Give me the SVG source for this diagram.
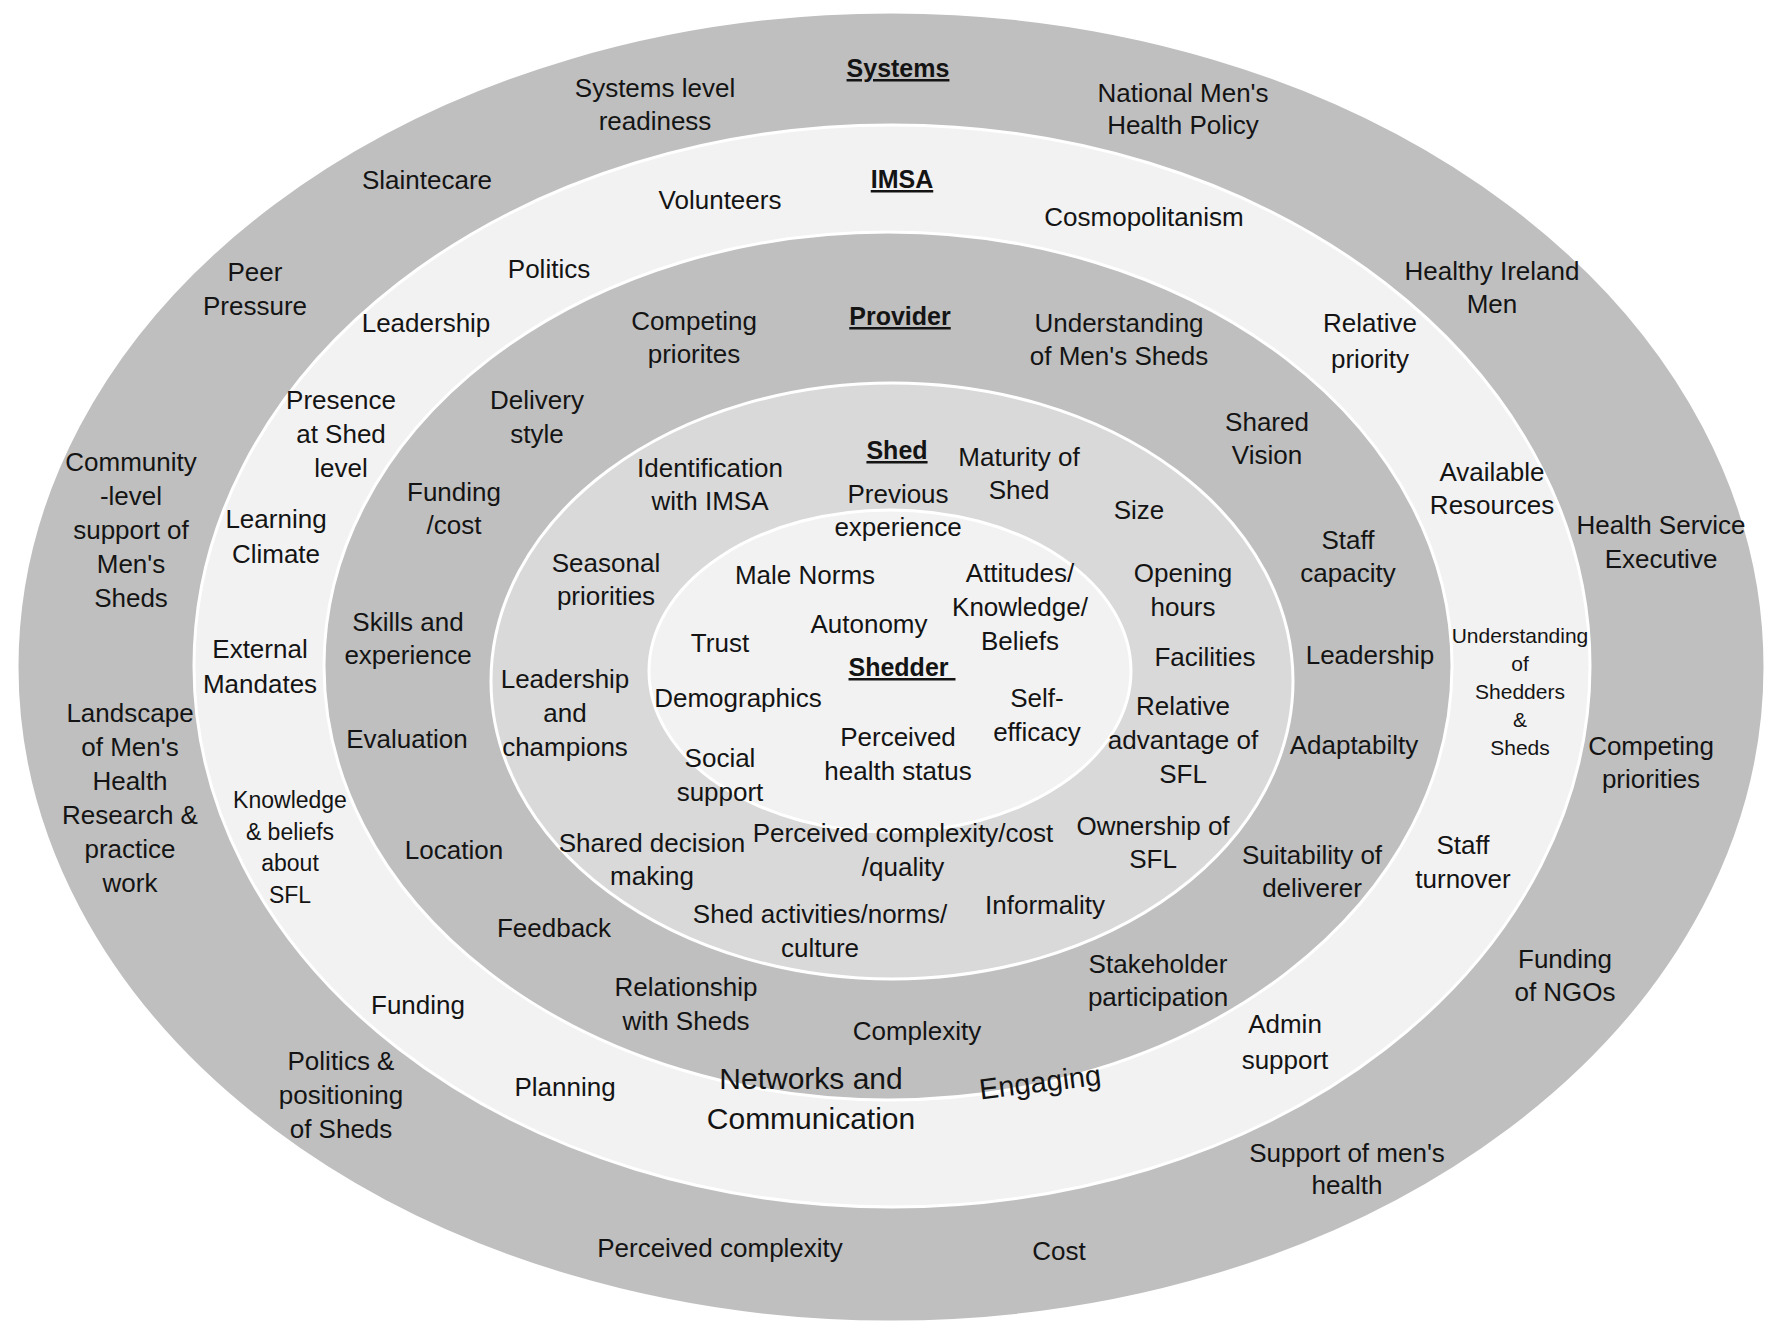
<svg xmlns="http://www.w3.org/2000/svg" width="1772" height="1329" viewBox="0 0 1772 1329">
<style>
.ring{stroke:#ffffff;stroke-width:3}
.t{font-family:"Liberation Sans",Arial,sans-serif;font-size:26px;fill:#141414;text-anchor:middle}
.h{font-family:"Liberation Sans",Arial,sans-serif;font-size:25px;font-weight:bold;fill:#141414;text-anchor:middle;text-decoration:underline}
.s21{font-size:21px}
.s23{font-size:23px}
.s30{font-size:30px}
</style>
<rect width="1772" height="1329" fill="#ffffff"/>
<g id="rings">
<g id="systems"><ellipse class="ring" cx="891" cy="667" rx="874" ry="655" fill="#bfbfbf"/></g>
<g id="imsa"><ellipse class="ring" cx="892" cy="666" rx="698" ry="541" fill="#f2f2f2"/></g>
<g id="provider"><ellipse class="ring" cx="888" cy="666" rx="564" ry="434" fill="#bfbfbf"/></g>
<g id="shed"><ellipse class="ring" cx="892" cy="681" rx="401" ry="298" fill="#d9d9d9"/></g>
<g id="shedder"><ellipse class="ring" cx="890" cy="671" rx="241" ry="161" fill="#f2f2f2"/></g>
</g>
<g id="systems-labels">
<text class="h" x="898" y="77">Systems</text>
<text class="t" x="655" y="97">Systems level<tspan x="655" dy="33">readiness</tspan></text>
<text class="t" x="1183" y="102">National Men's<tspan x="1183" dy="32">Health Policy</tspan></text>
<text class="t" x="427" y="189">Slaintecare</text>
<text class="t" x="255" y="281">Peer<tspan x="255" dy="34">Pressure</tspan></text>
<text class="t" x="1492" y="280">Healthy Ireland<tspan x="1492" dy="33">Men</tspan></text>
<text class="t" x="131" y="471">Community<tspan x="131" dy="34">-level</tspan><tspan x="131" dy="34">support of</tspan><tspan x="131" dy="34">Men's</tspan><tspan x="131" dy="34">Sheds</tspan></text>
<text class="t" x="1661" y="534">Health Service<tspan x="1661" dy="34">Executive</tspan></text>
<text class="t" x="130" y="722">Landscape<tspan x="130" dy="34">of Men's</tspan><tspan x="130" dy="34">Health</tspan><tspan x="130" dy="34">Research &amp;</tspan><tspan x="130" dy="34">practice</tspan><tspan x="130" dy="34">work</tspan></text>
<text class="t" x="1651" y="755">Competing<tspan x="1651" dy="33">priorities</tspan></text>
<text class="t" x="1565" y="968">Funding<tspan x="1565" dy="33">of NGOs</tspan></text>
<text class="t" x="341" y="1070">Politics &amp;<tspan x="341" dy="34">positioning</tspan><tspan x="341" dy="34">of Sheds</tspan></text>
<text class="t" x="1347" y="1162">Support of men's<tspan x="1347" dy="32">health</tspan></text>
<text class="t" x="720" y="1257">Perceived complexity</text>
<text class="t" x="1059" y="1260">Cost</text>
</g>
<g id="imsa-labels">
<text class="h" x="902" y="188">IMSA</text>
<text class="t" x="720" y="209">Volunteers</text>
<text class="t" x="1144" y="226">Cosmopolitanism</text>
<text class="t" x="549" y="278">Politics</text>
<text class="t" x="426" y="332">Leadership</text>
<text class="t" x="1370" y="332">Relative<tspan x="1370" dy="36">priority</tspan></text>
<text class="t" x="341" y="409">Presence<tspan x="341" dy="34">at Shed</tspan><tspan x="341" dy="34">level</tspan></text>
<text class="t" x="1492" y="481">Available<tspan x="1492" dy="33">Resources</tspan></text>
<text class="t" x="276" y="528">Learning<tspan x="276" dy="35">Climate</tspan></text>
<text class="t" x="260" y="658">External<tspan x="260" dy="35">Mandates</tspan></text>
<text class="t s21" x="1520" y="643">Understanding<tspan x="1520" dy="28">of</tspan><tspan x="1520" dy="28">Shedders</tspan><tspan x="1520" dy="28">&amp;</tspan><tspan x="1520" dy="28">Sheds</tspan></text>
<text class="t s23" x="290" y="808">Knowledge<tspan x="290" dy="31.5">&amp; beliefs</tspan><tspan x="290" dy="31.5">about</tspan><tspan x="290" dy="31.5">SFL</tspan></text>
<text class="t" x="1463" y="854">Staff<tspan x="1463" dy="34">turnover</tspan></text>
<text class="t" x="418" y="1014">Funding</text>
<text class="t" x="1285" y="1033">Admin<tspan x="1285" dy="36">support</tspan></text>
<text class="t" x="565" y="1096">Planning</text>
<text class="t s30" x="811" y="1089">Networks and<tspan x="811" dy="40">Communication</tspan></text>
<text class="t" style="font-size:29px" x="1040" y="1092" transform="rotate(-7 1040 1082)">Engaging</text>
</g>
<g id="provider-labels">
<text class="h" x="900" y="325">Provider</text>
<text class="t" x="694" y="330">Competing<tspan x="694" dy="33">priorites</tspan></text>
<text class="t" x="1119" y="332">Understanding<tspan x="1119" dy="33">of Men's Sheds</tspan></text>
<text class="t" x="537" y="409">Delivery<tspan x="537" dy="34">style</tspan></text>
<text class="t" x="1267" y="431">Shared<tspan x="1267" dy="33">Vision</tspan></text>
<text class="t" x="454" y="501">Funding<tspan x="454" dy="33">/cost</tspan></text>
<text class="t" x="1348" y="549">Staff<tspan x="1348" dy="33">capacity</tspan></text>
<text class="t" x="408" y="631">Skills and<tspan x="408" dy="33">experience</tspan></text>
<text class="t" x="1370" y="664">Leadership</text>
<text class="t" x="407" y="748">Evaluation</text>
<text class="t" x="1354" y="754">Adaptabilty</text>
<text class="t" x="454" y="859">Location</text>
<text class="t" x="1312" y="864">Suitability of<tspan x="1312" dy="33">deliverer</tspan></text>
<text class="t" x="554" y="937">Feedback</text>
<text class="t" x="1158" y="973">Stakeholder<tspan x="1158" dy="33">participation</tspan></text>
<text class="t" x="686" y="996">Relationship<tspan x="686" dy="34">with Sheds</tspan></text>
<text class="t" x="917" y="1040">Complexity</text>
</g>
<g id="shed-labels">
<text class="h" x="897" y="459">Shed</text>
<text class="t" x="710" y="477">Identification<tspan x="710" dy="33">with IMSA</tspan></text>
<text class="t" x="1019" y="466">Maturity of<tspan x="1019" dy="33">Shed</tspan></text>
<text class="t" x="898" y="503">Previous<tspan x="898" dy="33">experience</tspan></text>
<text class="t" x="1139" y="519">Size</text>
<text class="t" x="606" y="572">Seasonal<tspan x="606" dy="33">priorities</tspan></text>
<text class="t" x="1183" y="582">Opening<tspan x="1183" dy="34">hours</tspan></text>
<text class="t" x="1205" y="666">Facilities</text>
<text class="t" x="565" y="688">Leadership<tspan x="565" dy="34">and</tspan><tspan x="565" dy="34">champions</tspan></text>
<text class="t" x="1183" y="715">Relative<tspan x="1183" dy="34">advantage of</tspan><tspan x="1183" dy="34">SFL</tspan></text>
<text class="t" x="1153" y="835">Ownership of<tspan x="1153" dy="33">SFL</tspan></text>
<text class="t" x="652" y="852">Shared decision<tspan x="652" dy="33">making</tspan></text>
<text class="t" x="903" y="842">Perceived complexity/cost<tspan x="903" dy="34">/quality</tspan></text>
<text class="t" x="1045" y="914">Informality</text>
<text class="t" x="820" y="923">Shed activities/norms/<tspan x="820" dy="34">culture</tspan></text>
</g>
<g id="shedder-labels">
<text class="t" x="805" y="584">Male Norms</text>
<text class="t" x="1020" y="582">Attitudes/<tspan x="1020" dy="34">Knowledge/</tspan><tspan x="1020" dy="34">Beliefs</tspan></text>
<text class="t" x="869" y="633">Autonomy</text>
<text class="t" x="720" y="652">Trust</text>
<text class="h" x="902" y="676" xml:space="preserve">Shedder </text>
<text class="t" x="738" y="707">Demographics</text>
<text class="t" x="1037" y="707">Self-<tspan x="1037" dy="34">efficacy</tspan></text>
<text class="t" x="898" y="746">Perceived<tspan x="898" dy="34">health status</tspan></text>
<text class="t" x="720" y="767">Social<tspan x="720" dy="34">support</tspan></text>
</g>
<g id="connectors"></g>
</svg>
